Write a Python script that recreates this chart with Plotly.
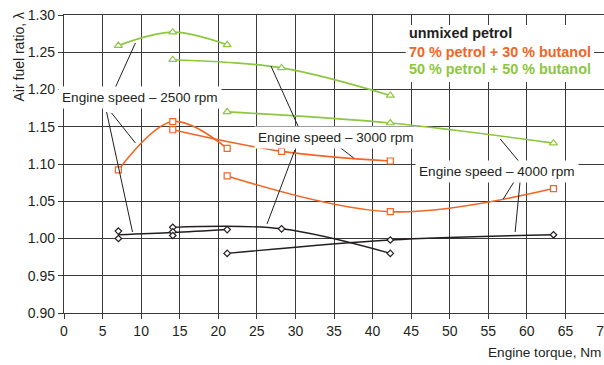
import plotly.graph_objects as go

# ---- data ----
x_2500 = [7.05, 14.1, 21.15]
x_3000 = [14.1, 28.2, 42.3]
x_4000 = [21.15, 42.3, 63.45]

green_2500 = [1.259, 1.277, 1.260]
green_3000 = [1.240, 1.229, 1.192]
green_4000 = [1.170, 1.155, 1.128]

orange_2500 = [1.092, 1.157, 1.121]
orange_3000 = [1.146, 1.117, 1.104]
orange_4000 = [1.084, 1.036, 1.067]

black_2500 = [1.005, 1.008, 1.012]
black_3000 = [1.015, 1.013, 0.980]
black_4000 = [0.980, 0.998, 1.005]
black_pts_x = [7.05, 7.05, 14.1, 14.1, 14.1, 21.15, 28.2, 42.3, 21.15, 42.3, 63.45]
black_pts_y = [1.010, 1.000, 1.015, 1.009, 1.004, 1.012, 1.013, 0.980, 0.980, 0.998, 1.005]

legend_labels = ["unmixed petrol", "70 % petrol + 30 % butanol", "50 % petrol + 50 % butanol"]
speed_labels = ["Engine speed \u2013 2500 rpm", "Engine speed \u2013 3000 rpm", "Engine speed \u2013 4000 rpm"]

GREEN = "#8DC63F"
ORANGE = "#F26522"
BLACK = "#231F20"
GRID = "#3a3a3a"
FONT = "Liberation Sans Narrow, Arial Narrow, Liberation Sans, Arial, sans-serif"

fig = go.Figure()

def add_series(x, y, color, symbol, size):
    fig.add_trace(go.Scatter(
        x=x, y=y, mode="lines+markers",
        line=dict(color=color, width=1.6, shape="spline"),
        marker=dict(symbol=symbol, size=size, color="white",
                    line=dict(color=color, width=1.2)),
        showlegend=False, hoverinfo="skip"))

for xs, ys in [(x_2500, green_2500), (x_3000, green_3000), (x_4000, green_4000)]:
    add_series(xs, ys, GREEN, "triangle-up", 7)
for xs, ys in [(x_2500, orange_2500), (x_3000, orange_3000), (x_4000, orange_4000)]:
    add_series(xs, ys, ORANGE, "square", 6)
for xs, ys in [(x_2500, black_2500), (x_3000, black_3000), (x_4000, black_4000)]:
    fig.add_trace(go.Scatter(x=xs, y=ys, mode="lines",
                             line=dict(color=BLACK, width=1.4, shape="spline"),
                             showlegend=False, hoverinfo="skip"))
fig.add_trace(go.Scatter(x=black_pts_x, y=black_pts_y, mode="markers",
                         marker=dict(symbol="diamond", size=5, color="white",
                                     line=dict(color=BLACK, width=1.2)),
                         showlegend=False, hoverinfo="skip"))

# leader lines (data coordinates)
leaders = [
    (6.56, 1.2007, 9.26, 1.2624),
    (5.52, 1.1698, 8.88, 1.0087),
    (6.16, 1.1685, 9.26, 1.1282),
    (26.83, 1.2315, 30.45, 1.1483),
    (29.93, 1.1188, 26.32, 1.0195),
    (35.36, 1.1255, 37.56, 1.1080),
    (56.55, 1.1336, 59.14, 1.1013),
    (58.48, 1.0785, 56.94, 1.0530),
    (59.14, 1.0785, 58.48, 1.0087),
]
for x0, y0, x1, y1 in leaders:
    fig.add_shape(type="line", xref="x", yref="y", x0=x0, y0=y0, x1=x1, y1=y1,
                  line=dict(color=BLACK, width=1), layer="above")

# legend box
fig.add_shape(type="rect", xref="x", yref="y", x0=44.3, x1=68.7, y0=1.2101, y1=1.2866,
              fillcolor="white", line=dict(width=0), layer="between")

annotations = []
label_pos = [(9.79, 1.1886), (35.23, 1.1362), (56.16, 1.0893)]
for (lx, ly), txt in zip(label_pos, speed_labels):
    annotations.append(dict(x=lx, y=ly, xref="x", yref="y", text=txt, showarrow=False,
                            font=dict(family=FONT, size=13.6, color=BLACK),
                            bgcolor="white", borderpad=3))

leg_y = [1.2758, 1.2503, 1.2275]
leg_colors = [BLACK, ORANGE, GREEN]
for ly, txt, c in zip(leg_y, legend_labels, leg_colors):
    annotations.append(dict(x=44.5, y=ly, xref="x", yref="y", text="<b>" + txt + "</b>",
                            showarrow=False, xanchor="left",
                            font=dict(family=FONT, size=14.4, color=c)))

annotations.append(dict(x=0, y=1, xref="paper", yref="paper", xanchor="center",
                        yanchor="top", xshift=-46, yshift=4,
                        text="Air fuel ratio, \u03bb", textangle=-90, showarrow=False,
                        font=dict(family=FONT, size=14, color=BLACK)))
annotations.append(dict(x=1, y=0, xref="paper", yref="paper", xanchor="right",
                        yanchor="middle", yshift=-39, xshift=-1, text="Engine torque, Nm",
                        showarrow=False, font=dict(family=FONT, size=13.6, color=BLACK)))

fig.update_layout(
    width=604, height=365,
    margin=dict(l=64, r=0, t=15, b=52, autoexpand=False),
    plot_bgcolor="white", paper_bgcolor="white",
    font=dict(family=FONT, size=14, color=BLACK),
    annotations=annotations,
    xaxis=dict(range=[0, 70], dtick=5, tick0=0, showgrid=True, gridcolor=GRID,
               gridwidth=1.4, zeroline=False, ticks="outside", ticklen=5,
               tickcolor=GRID, showline=True, linecolor=GRID, linewidth=1.4,
               mirror=True, automargin=False, ticklabeloverflow="allow",
               tickfont=dict(family=FONT, size=14, color=BLACK)),
    yaxis=dict(range=[0.9, 1.3], dtick=0.05, tick0=0.9, tickformat=".2f", showgrid=True,
               gridcolor=GRID, gridwidth=1.4, zeroline=False, ticks="outside",
               ticklen=5, tickcolor=GRID, showline=True, linecolor=GRID,
               linewidth=1.4, automargin=False,
               tickfont=dict(family=FONT, size=14, color=BLACK)),
)

fig.write_html(
    "out.html",
    config={"displayModeBar": False},
    post_script="document.body.style.margin='0';document.body.style.overflow='hidden';"
                "document.documentElement.style.overflow='hidden';",
)
